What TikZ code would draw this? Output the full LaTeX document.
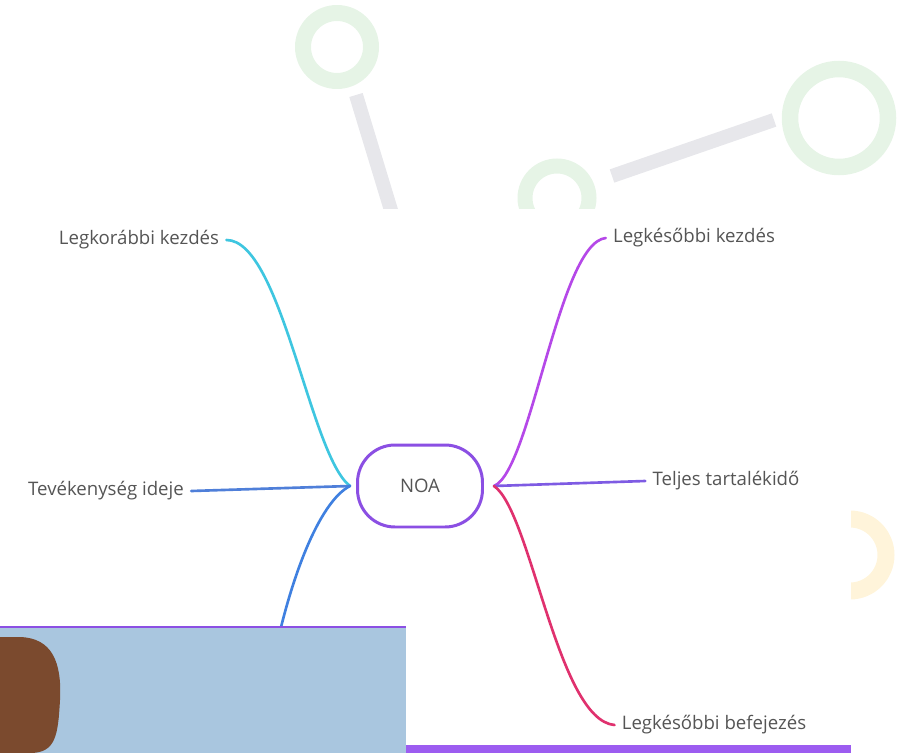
\documentclass[tikz,border=0pt]{standalone}
\usepackage{fontspec}
\setmainfont{Open Sans}
\definecolor{ringgreen}{HTML}{E6F4E6}
\definecolor{ringyellow}{HTML}{FFF4DA}
\definecolor{stickgray}{HTML}{E7E7EB}
\definecolor{txtgray}{HTML}{555555}
\definecolor{noaborder}{HTML}{8B4FE3}
\definecolor{cyanline}{HTML}{3EC6E0}
\definecolor{blueline}{HTML}{4F7FD9}
\definecolor{bluelow}{HTML}{3F80E0}
\definecolor{purpline}{HTML}{B548E8}
\definecolor{violine}{HTML}{7E5BE3}
\definecolor{pinkline}{HTML}{E0316E}
\definecolor{boxblue}{HTML}{A9C6DF}
\definecolor{blobbrown}{HTML}{7B4A2E}
\definecolor{barpurple}{HTML}{9C5CF0}
\begin{document}
\begin{tikzpicture}[x=0.02cm,y=-0.02cm,
  lbl/.style={text=txtgray,font=\fontsize{10.6}{12}\selectfont,inner sep=4pt},
  branch/.style={line width=1.5pt,line cap=round}]
\useasboundingbox (0,0) rectangle (902,753);
% background rings and sticks
\draw[ringgreen,line width=0.32cm] (337,47) circle (34);
\draw[ringgreen,line width=0.33cm] (839,118) circle (49);
\draw[ringgreen,line width=0.3cm] (557,198) circle (32);
\draw[ringyellow,line width=0.34cm] (850,555) circle (36);
\draw[stickgray,line width=0.28cm] (356,95) -- (397,230);
\draw[stickgray,line width=0.28cm] (612,176) -- (774,120);
\fill[white] (0,209) rectangle (851,753);
% mind map
\node[draw=noaborder,line width=1.7pt,fill=white,rounded corners=0.75cm,
  minimum width=2.5cm,minimum height=1.64cm,text=txtgray,
  font=\fontsize{10.6}{12}\selectfont] (noa) at (420,486) {NOA};
\node[lbl] (ek) at (139,240) {Legkorábbi kezdés};
\node[lbl] (ti) at (106,491) {Tevékenység ideje};
\node[lbl] (lk) at (694,238) {Legkésőbbi kezdés};
\node[lbl] (tt) at (726,481) {Teljes tartalékidő};
\node[lbl] (lb) at (714,725) {Legkésőbbi befejezés};
\coordinate (rejt) at (266,700);
\draw[branch,cyanline] (ek.east) .. controls +(55,0) and +(-40,-30) .. ([xshift=-0.12cm]noa.west);
\draw[branch,blueline] (ti.east) -- ([xshift=-0.12cm]noa.west);
\draw[branch,bluelow] ([xshift=-0.12cm]noa.west) .. controls +(-30,15) and +(20,-120) .. (rejt);
\draw[branch,purpline] ([xshift=0.2cm]noa.east) .. controls +(37,-15) and +(-47,5) .. (lk.west);
\draw[branch,violine] ([xshift=0.2cm]noa.east) -- (tt.west);
\draw[branch,pinkline] ([xshift=0.2cm]noa.east) .. controls +(37,25) and +(-57,-5) .. (lb.west);
% overlay box and bar
\fill[boxblue] (0,627) rectangle (406,753);
\draw[noaborder,line width=1.2pt] (0,627) -- (406,627);
\fill[blobbrown] (0,637) -- (20,637) .. controls (52,638) and (62,662) .. (60,700)
  .. controls (58,735) and (56,753) .. (30,753) -- (0,753) -- cycle;
\fill[barpurple] (406,745) rectangle (851,753);
\end{tikzpicture}
\end{document}
